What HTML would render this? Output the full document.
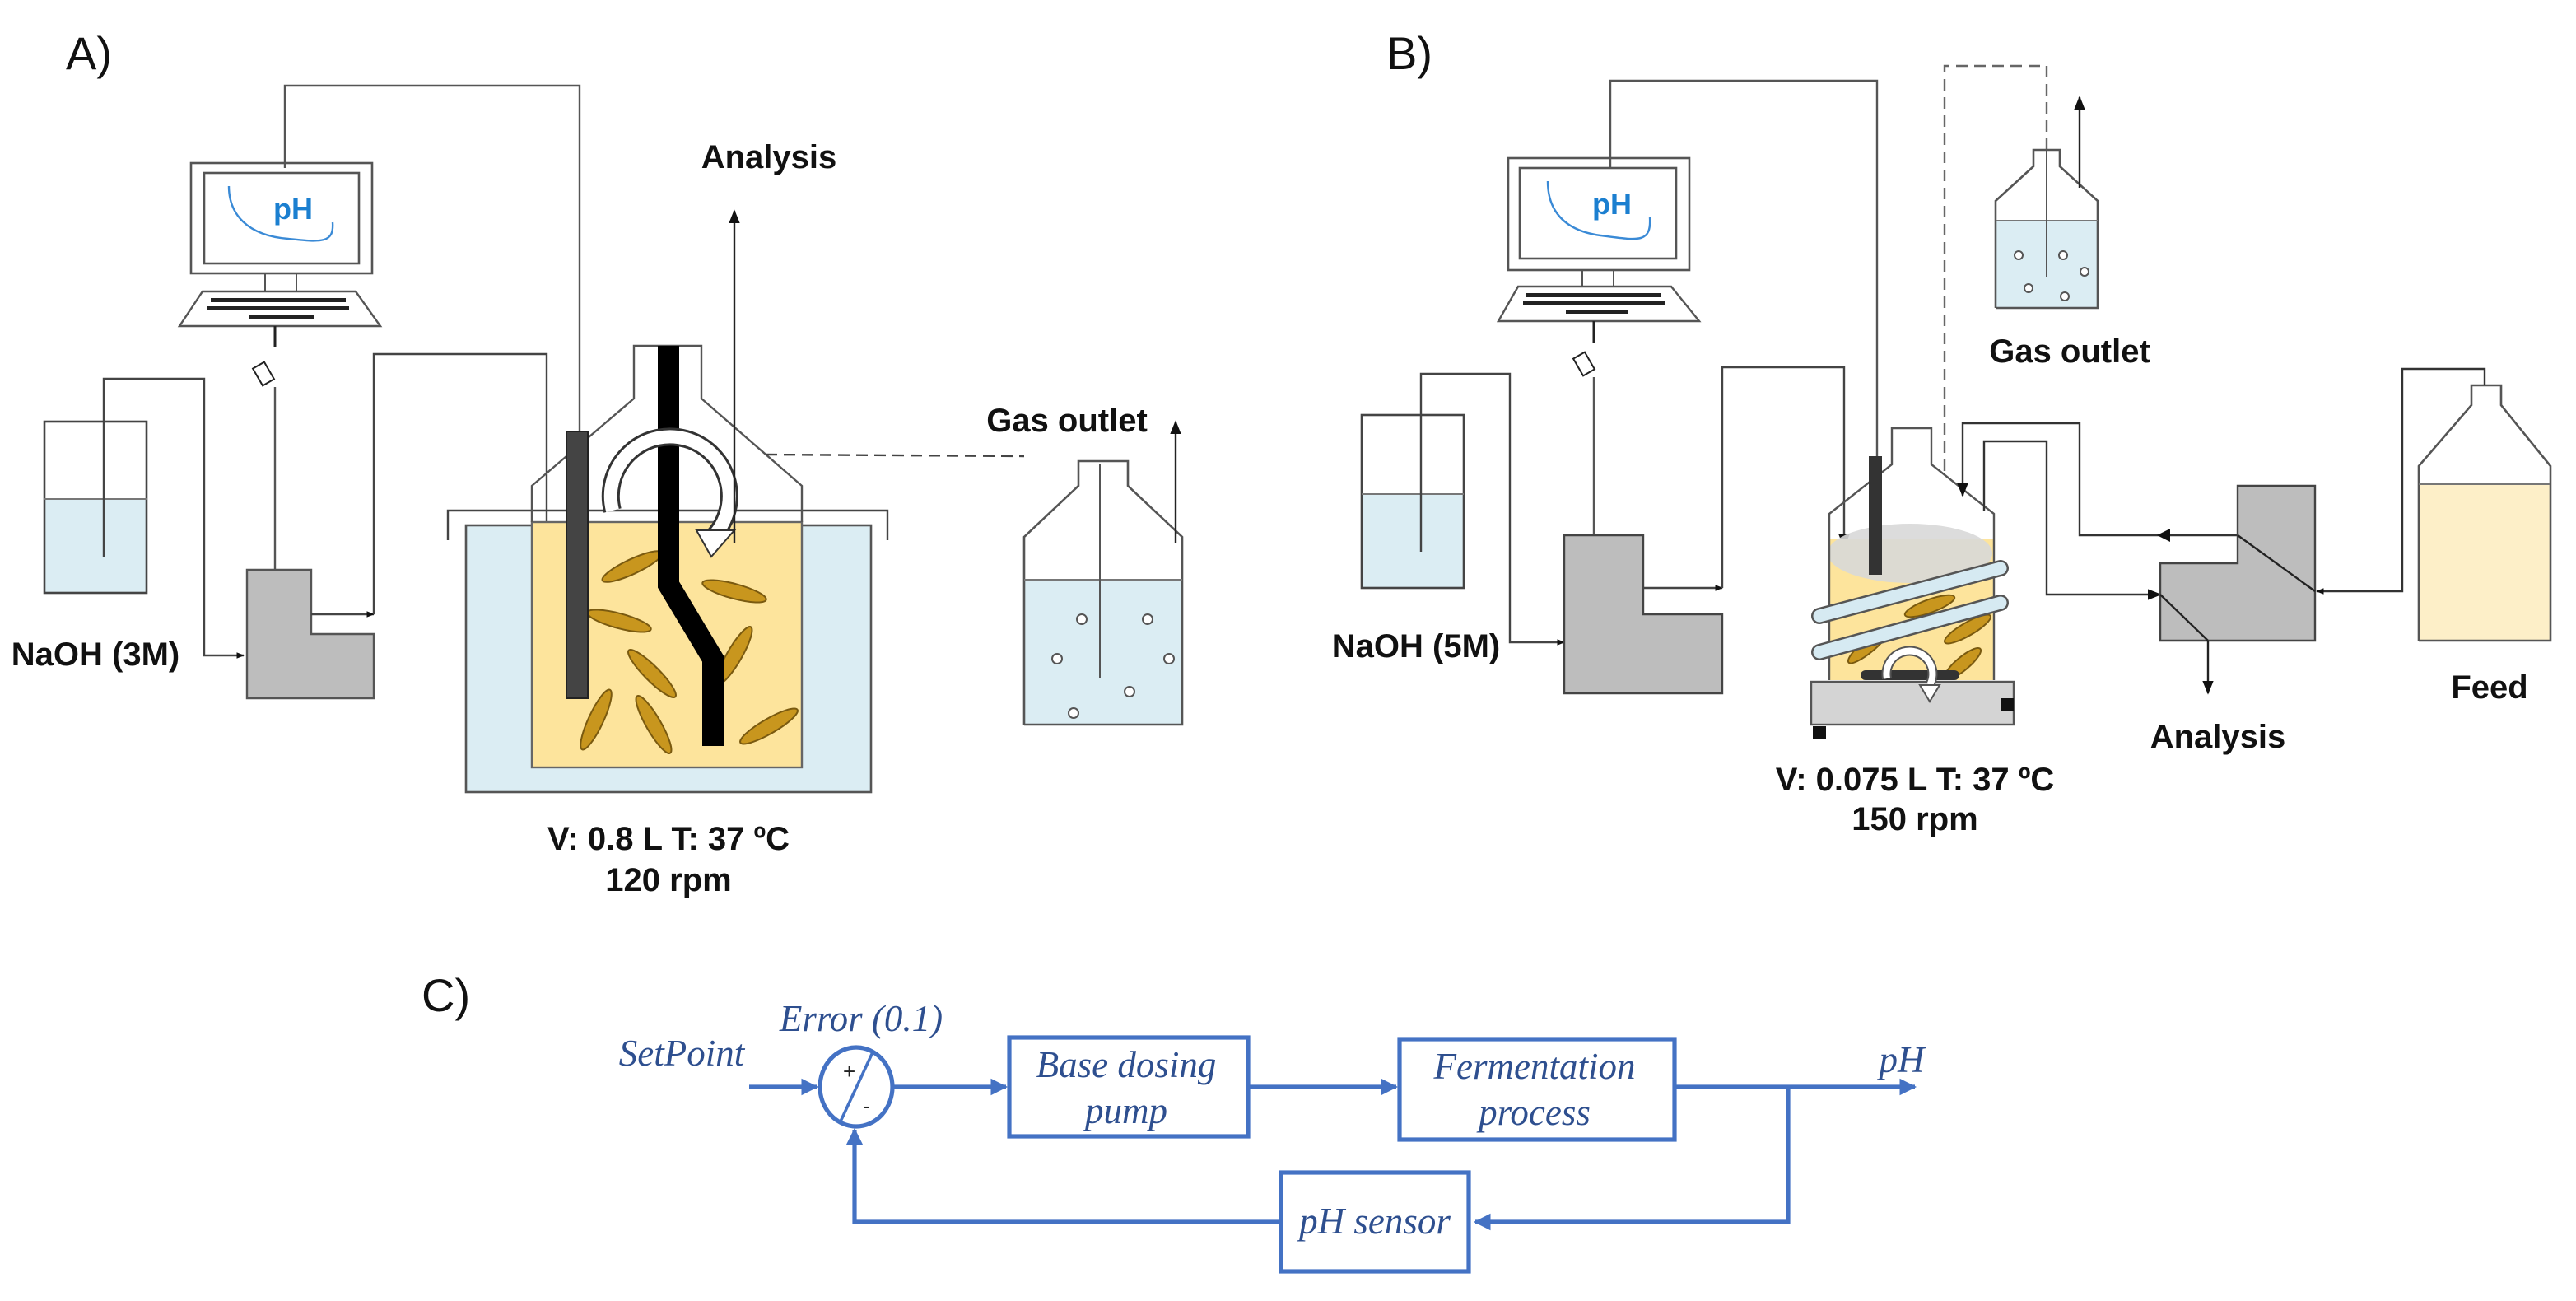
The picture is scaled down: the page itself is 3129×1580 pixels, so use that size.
<!DOCTYPE html>
<html><head><meta charset="utf-8"><style>
html,body{margin:0;padding:0;background:#fff;}
svg{display:block;}
.b{font-family:"Liberation Sans",sans-serif;font-weight:bold;font-size:20px;fill:#111;}
.l{font-family:"Liberation Sans",sans-serif;font-size:28px;fill:#111;}
.i{font-family:"Liberation Serif",serif;font-style:italic;font-size:22.5px;fill:#2e4f8f;}
</style></head><body>
<svg width="3129" height="1580" viewBox="0 0 1564.5 790" xmlns="http://www.w3.org/2000/svg">
<defs>
<marker id="ah" viewBox="0 0 10 10" refX="9" refY="5" markerWidth="7" markerHeight="7" orient="auto"><path d="M0,1 L10,5 L0,9 z" fill="#111"/></marker>
<marker id="ahs" viewBox="0 0 10 10" refX="9" refY="5" markerWidth="4" markerHeight="4" orient="auto"><path d="M0,1 L10,5 L0,9 z" fill="#111"/></marker>
<marker id="bh" viewBox="0 0 10 10" refX="9" refY="5" markerWidth="4" markerHeight="4" orient="auto"><path d="M0,0 L10,5 L0,10 z" fill="#4472c4"/></marker>
</defs>

<!-- ============ PANEL A ============ -->
<text class="l" x="40" y="42">A)</text>
<rect x="116" y="99" width="110" height="67" fill="#fff" stroke="#555" stroke-width="1.3"/>
<rect x="124" y="105" width="94" height="55" fill="#fff" stroke="#555" stroke-width="1.3"/>
<line x1="161" y1="166" x2="161" y2="177" stroke="#555"/><line x1="180" y1="166" x2="180" y2="177" stroke="#555"/>
<path d="M123,177 L216,177 L231,198 L109,198 Z" fill="#fff" stroke="#555" stroke-width="1.2"/>
<g fill="#222"><rect x="128" y="181" width="82" height="2.5"/><rect x="126" y="186" width="86" height="2.5"/><rect x="151" y="191" width="40" height="2.5"/></g>
<path d="M139,113 C139,130 150,143 175,145 C195,147 203,148 202,135" fill="none" stroke="#3a8ad6" stroke-width="1.2"/>
<text x="178" y="133" text-anchor="middle" font-family="Liberation Sans,sans-serif" font-weight="bold" font-size="18" fill="#1b7fd0">pH</text>
<line x1="167" y1="198" x2="167" y2="211" stroke="#222" stroke-width="1.5"/>
<rect x="156" y="221" width="8" height="12" transform="rotate(-30 160 227)" fill="#fff" stroke="#222"/>
<line x1="167" y1="235" x2="167" y2="346" stroke="#555" stroke-width="1.2"/>
<polyline points="173,102 173,52 352,52 352,262" fill="none" stroke="#555" stroke-width="1.2"/>
<rect x="27" y="303" width="62" height="57" fill="#dbedf3"/>
<rect x="27" y="256" width="62" height="104" fill="none" stroke="#444" stroke-width="1.3"/>
<line x1="27" y1="303" x2="89" y2="303" stroke="#777"/>
<polyline points="63,338 63,230 124,230 124,398 148,398" fill="none" stroke="#444" stroke-width="1.2" marker-end="url(#ahs)"/>
<text class="b" x="58" y="404" text-anchor="middle">NaOH (3M)</text>
<path d="M150,346 L189,346 L189,385 L227,385 L227,424 L150,424 Z" fill="#bdbdbd" stroke="#555" stroke-width="1.2"/>
<polyline points="189,373 227,373" fill="none" stroke="#444" stroke-width="1.2" marker-end="url(#ahs)"/>
<polyline points="227,373 227,215 332,215 332,327" fill="none" stroke="#444" stroke-width="1.2" marker-end="url(#ah)"/>
<rect x="283" y="319" width="246" height="162" fill="#dbedf3" stroke="#555" stroke-width="1.3"/>
<rect x="323" y="317" width="164" height="149" fill="#fde49c" stroke="#666" stroke-width="1.2"/>
<polyline points="272,328 272,310 539,310 539,328" fill="none" stroke="#444" stroke-width="1.2"/>
<polyline points="323,317 323,295 385,242 385,210 426,210 426,242 487,295 487,317" fill="none" stroke="#555" stroke-width="1.2"/>
<g fill="#c8961e" stroke="#7a5a10" stroke-width="1">
<ellipse cx="384" cy="344" rx="20" ry="4.5" transform="rotate(-25 384 344)"/>
<ellipse cx="446" cy="359" rx="20" ry="4.5" transform="rotate(15 446 359)"/>
<ellipse cx="376" cy="377" rx="20" ry="4.5" transform="rotate(15 376 377)"/>
<ellipse cx="396" cy="409" rx="20" ry="4.5" transform="rotate(45 396 409)"/>
<ellipse cx="446" cy="398" rx="20" ry="4.5" transform="rotate(-60 446 398)"/>
<ellipse cx="362" cy="437" rx="20" ry="4.5" transform="rotate(-65 362 437)"/>
<ellipse cx="397" cy="440" rx="20" ry="4.5" transform="rotate(60 397 440)"/>
<ellipse cx="467" cy="441" rx="20" ry="4.5" transform="rotate(-30 467 441)"/>
</g>
<rect x="344" y="262" width="13" height="162" fill="#444" stroke="#222"/>
<polyline points="406,210 406,355 433,400 433,453" fill="none" stroke="#000" stroke-width="13"/>
<path d="M372,310 A36,36 0 1 1 432,327" fill="none" stroke="#333" stroke-width="11"/>
<path d="M372,310 A36,36 0 1 1 432,327" fill="none" stroke="#fff" stroke-width="8"/>
<path d="M423,322 L446,322 L432,338 Z" fill="#fff" stroke="#333" stroke-width="1"/>
<line x1="446" y1="330" x2="446" y2="128" stroke="#222" stroke-width="1.2" marker-end="url(#ah)"/>
<text class="b" x="467" y="102" text-anchor="middle">Analysis</text>
<line x1="465" y1="276" x2="622" y2="277" stroke="#444" stroke-width="1.2" stroke-dasharray="7,4"/>
<path d="M622,352 L718,352 L718,440 L622,440 Z" fill="#dbedf3"/>
<polyline points="622,440 622,326 655,295 655,280 685,280 685,295 718,326 718,440 622,440" fill="none" stroke="#555" stroke-width="1.3"/>
<line x1="622" y1="352" x2="718" y2="352" stroke="#777"/>
<line x1="668" y1="282" x2="668" y2="412" stroke="#555"/>
<g fill="#fff" stroke="#555"><circle cx="657" cy="376" r="3"/><circle cx="697" cy="376" r="3"/><circle cx="642" cy="400" r="3"/><circle cx="710" cy="400" r="3"/><circle cx="652" cy="433" r="3"/><circle cx="686" cy="420" r="3"/></g>
<line x1="714" y1="330" x2="714" y2="256" stroke="#222" stroke-width="1.2" marker-end="url(#ah)"/>
<text class="b" x="648" y="262" text-anchor="middle">Gas outlet</text>
<text class="b" x="406" y="516" text-anchor="middle">V: 0.8 L  T: 37 ºC</text>
<text class="b" x="406" y="541" text-anchor="middle">120 rpm</text>

<!-- ============ PANEL B ============ -->
<text class="l" x="842" y="42">B)</text>
<rect x="916" y="96" width="110" height="68" fill="#fff" stroke="#555" stroke-width="1.3"/>
<rect x="923" y="102" width="95" height="55" fill="#fff" stroke="#555" stroke-width="1.3"/>
<line x1="961" y1="164" x2="961" y2="174" stroke="#555"/><line x1="980" y1="164" x2="980" y2="174" stroke="#555"/>
<path d="M922,174 L1015,174 L1032,195 L910,195 Z" fill="#fff" stroke="#555" stroke-width="1.2"/>
<g fill="#222"><rect x="927" y="178" width="82" height="2.5"/><rect x="925" y="183" width="86" height="2.5"/><rect x="951" y="188" width="38" height="2.5"/></g>
<path d="M940,110 C940,128 950,140 972,143 C995,146 1003,148 1002,132" fill="none" stroke="#3a8ad6" stroke-width="1.2"/>
<text x="979" y="130" text-anchor="middle" font-family="Liberation Sans,sans-serif" font-weight="bold" font-size="18" fill="#1b7fd0">pH</text>
<line x1="968" y1="195" x2="968" y2="208" stroke="#222" stroke-width="1.5"/>
<rect x="958" y="215" width="8" height="12" transform="rotate(-30 962 221)" fill="#fff" stroke="#222"/>
<line x1="968" y1="229" x2="968" y2="325" stroke="#555" stroke-width="1.2"/>
<polyline points="978,102 978,49 1140,49 1140,277" fill="none" stroke="#555" stroke-width="1.2"/>
<rect x="827" y="300" width="62" height="57" fill="#dbedf3"/>
<rect x="827" y="252" width="62" height="105" fill="none" stroke="#444" stroke-width="1.3"/>
<line x1="827" y1="300" x2="889" y2="300" stroke="#777"/>
<polyline points="863,335 863,227 917,227 917,390 950,390" fill="none" stroke="#444" stroke-width="1.2" marker-end="url(#ahs)"/>
<text class="b" x="860" y="399" text-anchor="middle">NaOH (5M)</text>
<path d="M950,325 L998,325 L998,373 L1046,373 L1046,421 L950,421 Z" fill="#bdbdbd" stroke="#444" stroke-width="1.2"/>
<polyline points="998,357 1046,357" fill="none" stroke="#444" stroke-width="1.2" marker-end="url(#ahs)"/>
<polyline points="1046,357 1046,223 1120,223 1120,332" fill="none" stroke="#444" stroke-width="1.2" marker-end="url(#ah)"/>
<rect x="1111" y="327" width="100" height="86" fill="#fde49c"/>
<g fill="#c8961e" stroke="#7a5a10"><ellipse cx="1172" cy="368" rx="16" ry="4" transform="rotate(-20 1172 368)"/><ellipse cx="1195" cy="382" rx="16" ry="4" transform="rotate(-30 1195 382)"/><ellipse cx="1135" cy="392" rx="16" ry="4" transform="rotate(-40 1135 392)"/><ellipse cx="1192" cy="403" rx="14" ry="4" transform="rotate(-40 1192 403)"/></g>
<ellipse cx="1160" cy="336" rx="50" ry="18" fill="#d8d8d8" opacity="0.9"/>
<polyline points="1111,413 1111,312 1149,282 1149,260 1173,260 1173,282 1211,312 1211,413" fill="none" stroke="#555" stroke-width="1.2"/>
<rect x="1135" y="277" width="8" height="72" fill="#333"/>
<g stroke-linecap="round">
<line x1="1105" y1="374" x2="1215" y2="345" stroke="#555" stroke-width="10"/><line x1="1105" y1="374" x2="1215" y2="345" stroke="#d6eaf2" stroke-width="7.5"/>
<line x1="1105" y1="396" x2="1215" y2="366" stroke="#555" stroke-width="10"/><line x1="1105" y1="396" x2="1215" y2="366" stroke="#d6eaf2" stroke-width="7.5"/>
</g>
<rect x="1130" y="407" width="60" height="6" rx="3" fill="#333"/>
<rect x="1100" y="414" width="123" height="26" fill="#d4d4d4" stroke="#555" stroke-width="1.2"/>
<rect x="1101" y="441" width="8" height="8" fill="#111"/><rect x="1215" y="424" width="8" height="8" fill="#111"/>
<path d="M1146,412 A14,14 0 1 1 1172,416" fill="none" stroke="#555" stroke-width="6"/>
<path d="M1146,412 A14,14 0 1 1 1172,416" fill="none" stroke="#fff" stroke-width="4"/>
<path d="M1166,416 L1178,416 L1172,426 Z" fill="#fff" stroke="#555"/>
<polyline points="1181,286 1181,40 1243,40 1243,91" fill="none" stroke="#666" stroke-width="1.2" stroke-dasharray="7,4"/>
<rect x="1212" y="134" width="62" height="53" fill="#dbedf3"/>
<polyline points="1212,187 1212,122 1235,101 1235,91 1251,91 1251,101 1274,122 1274,187 1212,187" fill="none" stroke="#555" stroke-width="1.3"/>
<line x1="1212" y1="134" x2="1274" y2="134" stroke="#777"/>
<line x1="1243" y1="91" x2="1243" y2="168" stroke="#555"/>
<g fill="#fff" stroke="#555"><circle cx="1226" cy="155" r="2.5"/><circle cx="1253" cy="155" r="2.5"/><circle cx="1266" cy="165" r="2.5"/><circle cx="1232" cy="175" r="2.5"/><circle cx="1254" cy="180" r="2.5"/></g>
<line x1="1263" y1="114" x2="1263" y2="59" stroke="#222" stroke-width="1.2" marker-end="url(#ah)"/>
<text class="b" x="1257" y="220" text-anchor="middle">Gas outlet</text>
<polyline points="1361,325 1263,325 1263,257 1192,257 1192,301" fill="none" stroke="#333" stroke-width="1.2" marker-end="url(#ah)"/>
<path d="M1318,321 L1310,325 L1318,329 Z" fill="#111"/>
<polyline points="1205,310 1205,268 1243,268 1243,361 1312,361" fill="none" stroke="#333" stroke-width="1.2" marker-end="url(#ah)"/>
<path d="M1359,295 L1406,295 L1406,389 L1312,389 L1312,342 L1359,342 Z" fill="#bdbdbd" stroke="#444" stroke-width="1.2"/>
<line x1="1359" y1="325" x2="1406" y2="359" stroke="#222" stroke-width="1.2"/>
<line x1="1312" y1="361" x2="1341" y2="389" stroke="#222" stroke-width="1.2"/>
<line x1="1341" y1="389" x2="1341" y2="421" stroke="#222" stroke-width="1.2" marker-end="url(#ah)"/>
<text class="b" x="1347" y="454" text-anchor="middle">Analysis</text>
<rect x="1469" y="294" width="80" height="95" fill="#fdefc8"/>
<polyline points="1469,389 1469,283 1501,246 1501,234 1519,234 1519,246 1549,283 1549,389 1469,389" fill="none" stroke="#555" stroke-width="1.3"/>
<line x1="1469" y1="294" x2="1549" y2="294" stroke="#777"/>
<polyline points="1509,234 1509,224 1459,224 1459,359 1407,359" fill="none" stroke="#333" stroke-width="1.2" marker-end="url(#ahs)"/>
<text class="b" x="1512" y="424" text-anchor="middle">Feed</text>
<text class="b" x="1163" y="480" text-anchor="middle">V: 0.075 L  T: 37 ºC</text>
<text class="b" x="1163" y="504" text-anchor="middle">150 rpm</text>

<!-- ============ PANEL C ============ -->
<text class="l" x="256" y="614">C)</text>
<g stroke="#4472c4" stroke-width="2.6" fill="none">
<ellipse cx="520" cy="660" rx="22" ry="24" fill="#fff"/>
<line x1="510" y1="682" x2="530" y2="639" stroke-width="1.8"/>
<line x1="455" y1="660" x2="496" y2="660" marker-end="url(#bh)"/>
<line x1="543" y1="660" x2="611" y2="660" marker-end="url(#bh)"/>
<rect x="613" y="630" width="145" height="60" fill="#fff"/>
<line x1="758" y1="660" x2="848" y2="660" marker-end="url(#bh)"/>
<rect x="850" y="631" width="167" height="61" fill="#fff"/>
<line x1="1017" y1="660" x2="1163" y2="660" marker-end="url(#bh)"/>
<polyline points="1086,660 1086,742 896,742" marker-end="url(#bh)"/>
<rect x="778" y="712" width="114" height="60" fill="#fff"/>
<polyline points="778,742 519,742 519,686" marker-end="url(#bh)"/>
</g>
<text x="512" y="655" font-family="Liberation Sans,sans-serif" font-size="13" fill="#222">+</text>
<text x="524" y="676" font-family="Liberation Sans,sans-serif" font-size="13" fill="#222">-</text>
<text class="i" x="414" y="647" text-anchor="middle">SetPoint</text>
<text class="i" x="523" y="626" text-anchor="middle">Error (0.1)</text>
<text class="i" x="684" y="654" text-anchor="middle">Base dosing</text>
<text class="i" x="684" y="682" text-anchor="middle">pump</text>
<text class="i" x="932" y="655" text-anchor="middle">Fermentation</text>
<text class="i" x="932" y="683" text-anchor="middle">process</text>
<text class="i" x="1155" y="651" text-anchor="middle">pH</text>
<text class="i" x="835" y="749" text-anchor="middle">pH sensor</text>
</svg>
</body></html>
